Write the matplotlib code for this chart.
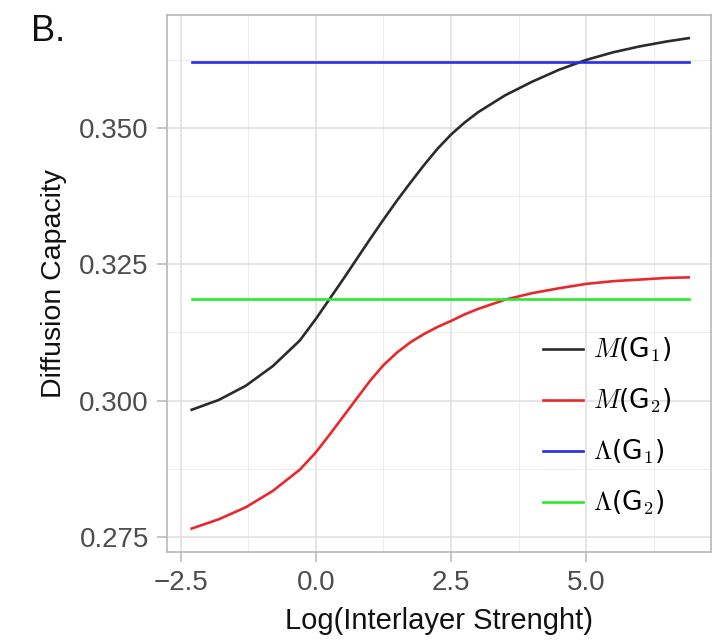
import numpy as np
import matplotlib
matplotlib.use("Agg")
import matplotlib.pyplot as plt
from matplotlib.ticker import MultipleLocator

plt.rcParams['font.family'] = ['Liberation Sans', 'DejaVu Sans']
plt.rcParams['mathtext.fontset'] = 'cm'

# log interlayer strength
log_strength = [-2.3, -1.8, -1.3, -0.8, -0.3, 0.0, 0.25, 0.5, 0.75, 1.0, 1.25, 1.5, 1.75,
                2.0, 2.25, 2.5, 2.75, 3.0, 3.5, 4.0, 4.5, 5.0, 5.5, 6.0, 6.5, 6.9]
m_g1 = [0.2983, 0.3001, 0.3027, 0.3063, 0.3110, 0.3150, 0.3186, 0.3222, 0.3259, 0.3296,
        0.3332, 0.3367, 0.3400, 0.3432, 0.3462, 0.3488, 0.3510, 0.3529, 0.3560, 0.3585,
        0.3607, 0.3625, 0.3639, 0.3650, 0.3659, 0.3665]
m_g2 = [0.2765, 0.2782, 0.2804, 0.2834, 0.2873, 0.2905, 0.2937, 0.2970, 0.3003, 0.3036,
        0.3065, 0.3088, 0.3107, 0.3122, 0.3135, 0.3146, 0.3158, 0.3168, 0.3185, 0.3197,
        0.3206, 0.3214, 0.3219, 0.3222, 0.3225, 0.3226]
lambda_g1 = 0.3621
lambda_g2 = 0.3186

labels = [r'$M$(G$_\mathsf{1}$)', r'$M$(G$_\mathsf{2}$)',
          r'$\Lambda$(G$_\mathsf{1}$)', r'$\Lambda$(G$_\mathsf{2}$)']
colors = ['#2b2b2b', '#e8282d', '#2a2ae6', '#2ee62e']

fig = plt.figure(figsize=(7.13, 6.4), dpi=100)
ax = fig.add_axes([0.234, 0.1375, 0.763, 0.8395])

x = np.array(log_strength)
ax.plot(x, m_g1, color=colors[0], lw=1.9, label=labels[0], zorder=3)
ax.plot(x, m_g2, color=colors[1], lw=1.9, label=labels[1], zorder=3)
ax.plot([x[0], x[-1]], [lambda_g1, lambda_g1], color=colors[2], lw=1.9, label=labels[2], zorder=3)
ax.plot([x[0], x[-1]], [lambda_g2, lambda_g2], color=colors[3], lw=1.9, label=labels[3], zorder=3)

ax.set_xlim(-2.76, 7.31)
ax.set_ylim(0.2722, 0.3708)
ax.xaxis.set_minor_locator(MultipleLocator(1.25))
ax.yaxis.set_minor_locator(MultipleLocator(0.0125))
ax.set_xticks([-2.5, 0.0, 2.5, 5.0])
ax.set_xticklabels(['\u22122.5', '0.0', '2.5', '5.0'])
ax.set_yticks([0.275, 0.300, 0.325, 0.350])
ax.set_yticklabels(['0.275', '0.300', '0.325', '0.350'])

ax.grid(which='major', color='#dedede', lw=1.1)
ax.grid(which='minor', color='#ececec', lw=0.7)
ax.set_axisbelow(True)
for s in ax.spines.values():
    s.set_color('#b8b8b8')
    s.set_linewidth(1.2)
ax.tick_params(which='major', length=7, width=1.1, color='#b8b8b8',
               labelsize=20, labelcolor='#4d4d4d', pad=6)
ax.tick_params(which='minor', length=0)

ax.set_xlabel('Log(Interlayer Strenght)', fontsize=21, color='#111111', labelpad=8)
ax.set_ylabel('Diffusion Capacity', fontsize=20.5, color='#111111', labelpad=9)

leg = ax.legend(loc='upper left', bbox_to_anchor=(543 / 713, 1 - 336 / 640),
                bbox_transform=fig.transFigure, frameon=False, borderpad=0,
                borderaxespad=0, handlelength=1.5, labelspacing=0.85,
                handletextpad=0.4, prop={'family': 'DejaVu Sans', 'size': 19})

fig.text(0.043, 0.978, 'B.', fontsize=26, va='top', ha='left', color='#111111')

fig.savefig('out.png', dpi=100)
